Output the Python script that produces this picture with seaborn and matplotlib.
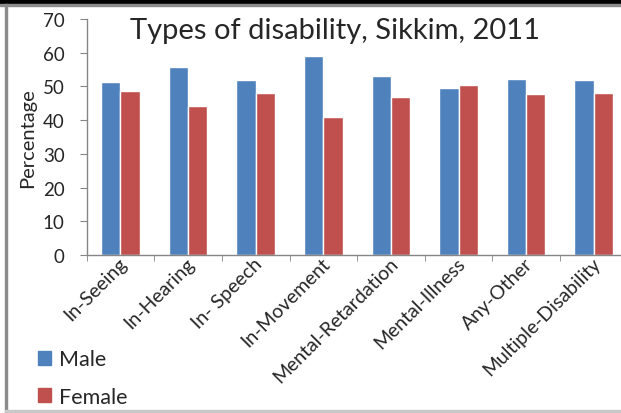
import matplotlib
matplotlib.use("Agg")
import matplotlib.pyplot as plt
import matplotlib.ticker as mticker
import matplotlib.transforms as mtrans
from matplotlib.patches import Rectangle
import pandas as pd
import seaborn as sns

categories = ["In-Seeing", "In-Hearing", "In- Speech", "In-Movement",
              "Mental-Retardation", "Mental-Illness", "Any-Other", "Multiple-Disability"]
male = [51.3, 55.9, 51.9, 59.0, 53.0, 49.6, 52.2, 51.9]
female = [48.7, 44.1, 48.1, 41.0, 47.0, 50.4, 47.8, 48.1]
series = ["Male", "Female"]
colors = ["#4F81BD", "#C0504D"]
y_ticks = [0, 10, 20, 30, 40, 50, 60, 70]

df = pd.DataFrame({
    "type": categories * 2,
    "pct": male + female,
    "sex": ["Male"] * len(categories) + ["Female"] * len(categories),
})

sns.set_style("white")
plt.rcParams["font.family"] = ["Lato", "DejaVu Sans"]

fig = plt.figure(figsize=(6.21, 4.14), dpi=100)
ax = fig.add_axes([86.7 / 621, 1 - 256 / 414, 540.8 / 621, 236 / 414])

sns.barplot(data=df, x="type", y="pct", hue="sex", hue_order=series,
            palette=colors, width=0.57, ax=ax, saturation=1, legend=False)

ax.set_xlim(-0.5, len(categories) - 0.5)
ax.set_ylim(0, 70)
ax.set_yticks(y_ticks)
ax.set_yticklabels([str(v) for v in y_ticks], fontsize=13.5)
ax.set_ylabel("Percentage", fontsize=14.5)
ax.yaxis.set_label_coords(-0.093, 0.5)
ax.set_xlabel("")

# category boundary ticks like Excel
ax.xaxis.set_minor_locator(mticker.FixedLocator([i - 0.5 for i in range(len(categories) + 1)]))
ax.tick_params(axis="x", which="major", length=0, pad=4)
ax.tick_params(axis="x", which="minor", length=4, color="#868686", direction="out", bottom=True)
ax.tick_params(axis="y", length=4.8, color="#868686", direction="out", left=True, pad=11)
ax.set_xticks(range(len(categories)))
ax.set_xticklabels(categories, rotation=45, ha="right", va="center",
                   rotation_mode="anchor", fontsize=14)
shift = mtrans.ScaledTranslation(4 / 100, 0, fig.dpi_scale_trans)
for lab in ax.get_xticklabels():
    lab.set_transform(lab.get_transform() + shift)

for s in ["top", "right"]:
    ax.spines[s].set_visible(False)
for s in ["left", "bottom"]:
    ax.spines[s].set_color("#868686")
    ax.spines[s].set_linewidth(1.0)

fig.text(335 / 621, 1 - 31 / 414, "Types of disability, Sikkim, 2011",
         ha="center", va="center", fontsize=21)

# legend
handles = [Rectangle((0, 0), 1, 1, color=c) for c in colors]
fig.legend(handles, series, loc="upper left", bbox_to_anchor=(19 / 621, 1 - 331 / 414),
           frameon=False, fontsize=15.5, handlelength=0.6, handleheight=0.6,
           handletextpad=0.37, labelspacing=0.8)

# outer frame
fig.add_artist(Rectangle((0, 1 - 5 / 414), 1, 5 / 414, transform=fig.transFigure,
                         color="black", zorder=10))
fig.add_artist(Rectangle((0, 1 - 7 / 414), 1, 2 / 414, transform=fig.transFigure,
                         color="#8c8c8c", zorder=10))
fig.add_artist(Rectangle((5 / 621, 1 / 414), 2 / 621, 1 - 6 / 414, transform=fig.transFigure,
                         color="#8c8c8c", zorder=10))
fig.add_artist(Rectangle((5 / 621, 1 / 414), 1, 2 / 414, transform=fig.transFigure,
                         color="#c8c8c8", zorder=10))

fig.savefig("out.png", dpi=100)
